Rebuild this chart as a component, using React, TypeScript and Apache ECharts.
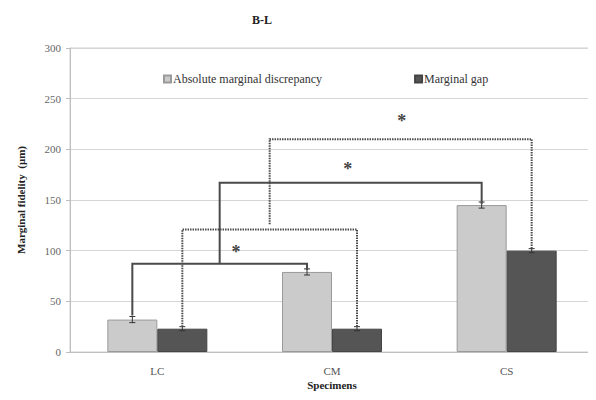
import React, { useEffect, useRef } from "react";
import * as echarts from "echarts";

const categories = ["LC", "CM", "CS"];
const seriesNames = ["Absolute marginal discrepancy", "Marginal gap"];
const absoluteDiscrepancy = [32, 79, 145];
const marginalGap = [23, 23, 100];
const absoluteErr = [3, 3, 3];
const gapErr = [2, 2, 2];

// significance brackets: from bar (cat, series) or the middle of another bracket
const bracketFrom = [
  { cat: 0, series: 0 },
  { cat: 0, series: 1 },
  { mid: 0 },
  { mid: 1 },
];
const bracketTo = [
  { cat: 1, series: 0 },
  { cat: 1, series: 1 },
  { cat: 2, series: 0 },
  { cat: 2, series: 1 },
];
const bracketFromEnd = [36, 25, 87, 126];
const bracketToEnd = [81, 25, 146, 101];
const bracketLevel = [87, 121, 167, 210];
const bracketDashed = [false, true, false, true];

// asterisks: position along category index, value
const starPos = [0.45, 1.09, 1.4];
const starValue = [99, 181, 228];

const BAR_W = 50;
const SERIF = "'Liberation Serif', 'Times New Roman', serif";

export default function App() {
  const ref = useRef<HTMLDivElement>(null);
  useEffect(() => {
    if (!ref.current) return;
    const chart = echarts.init(ref.current, undefined, { renderer: "svg" });

    const barX = (api: any, cat: number, series: number) => {
      const c = api.coord([cat, 0]);
      return c[0] + (series === 0 ? -BAR_W / 2 : BAR_W / 2);
    };
    const bracketXs = (api: any, i: number): [number, number] => {
      const f: any = bracketFrom[i];
      const t: any = bracketTo[i];
      let x1: number;
      if (f.mid !== undefined) {
        const [a, b] = bracketXs(api, f.mid);
        x1 = (a + b) / 2;
      } else x1 = barX(api, f.cat, f.series);
      const x2 = barX(api, t.cat, t.series);
      return [x1, x2];
    };

    chart.setOption({
      animation: false,
      textStyle: { fontFamily: SERIF },
      title: {
        text: "B-L",
        left: 257,
        top: 9,
        textAlign: "center",
        textStyle: { fontFamily: SERIF, fontSize: 12, fontWeight: "bold", color: "#222" },
      },
      legend: {
        data: seriesNames,
        left: 158,
        top: 68,
        itemGap: 92,
        itemWidth: 7,
        itemHeight: 7,
        icon: "rect",
        textStyle: { fontFamily: SERIF, fontSize: 12, color: "#333", padding: [0, 0, 0, -3] },
      },
      grid: {
        left: 70,
        right: 2,
        top: 48,
        bottom: 48,
        show: true,
        borderColor: "#cfcfcf",
        borderWidth: 1,
      },
      xAxis: {
        type: "category",
        data: categories,
        name: "Specimens",
        nameLocation: "middle",
        nameGap: 27,
        nameMoveOverlap: false,
        nameTextStyle: { fontFamily: SERIF, fontSize: 11, fontWeight: "bold", color: "#222" },
        axisLine: { lineStyle: { color: "#bfbfbf" } },
        axisTick: { show: false },
        axisLabel: { fontFamily: SERIF, fontSize: 11, color: "#555", margin: 13 },
      },
      yAxis: {
        type: "value",
        min: 0,
        max: 300,
        interval: 50,
        name: "Marginal fidelity  (μm)",
        nameLocation: "middle",
        nameGap: 44,
        nameMoveOverlap: false,
        nameTextStyle: { fontFamily: SERIF, fontSize: 11, fontWeight: "bold", color: "#222" },
        axisLine: { show: true, lineStyle: { color: "#bfbfbf" } },
        axisTick: { show: true, inside: false, length: 4, lineStyle: { color: "#bfbfbf" } },
        axisLabel: { fontFamily: SERIF, fontSize: 11, color: "#666", margin: 9 },
        splitLine: { lineStyle: { color: "#d6d6d6" } },
      },
      series: [
        {
          name: seriesNames[0],
          type: "bar",
          data: absoluteDiscrepancy,
          barWidth: BAR_W,
          barGap: "0%",
          itemStyle: { color: "#cbcbcb", borderColor: "#9a9a9a", borderWidth: 1 },
        },
        {
          name: seriesNames[1],
          type: "bar",
          data: marginalGap,
          barWidth: BAR_W,
          barGap: "0%",
          itemStyle: { color: "#555555", borderColor: "#444", borderWidth: 1 },
        },
        {
          type: "custom",
          name: "errors",
          silent: true,
          z: 5,
          data: categories.map((_, i) => [i, absoluteDiscrepancy[i]]),
          renderItem: (params: any, api: any) => {
            const i = params.dataIndex;
            const children: any[] = [];
            const vals = [absoluteDiscrepancy[i], marginalGap[i]];
            const errs = [absoluteErr[i], gapErr[i]];
            for (let s = 0; s < 2; s++) {
              const x = barX(api, i, s);
              const yTop = api.coord([i, vals[s] + errs[s]])[1];
              const yBot = api.coord([i, vals[s] - errs[s]])[1];
              const st = { stroke: "#333", lineWidth: 1 };
              children.push({ type: "line", shape: { x1: x, y1: yTop, x2: x, y2: yBot }, style: st });
              children.push({ type: "line", shape: { x1: x - 3, y1: yTop, x2: x + 3, y2: yTop }, style: st });
              children.push({ type: "line", shape: { x1: x - 3, y1: yBot, x2: x + 3, y2: yBot }, style: st });
            }
            return { type: "group", children };
          },
        },
        {
          type: "custom",
          name: "brackets",
          silent: true,
          z: 6,
          data: bracketLevel.map((v) => [0, v]),
          renderItem: (params: any, api: any) => {
            const i = params.dataIndex;
            const [x1, x2] = bracketXs(api, i);
            const yL = api.coord([0, bracketLevel[i]])[1];
            const yA = api.coord([0, bracketFromEnd[i]])[1];
            const yB = api.coord([0, bracketToEnd[i]])[1];
            return {
              type: "polyline",
              shape: { points: [[x1, yA], [x1, yL], [x2, yL], [x2, yB]] },
              style: {
                stroke: "#4a4a4a",
                lineWidth: 2,
                fill: null,
                lineDash: bracketDashed[i] ? [1.5, 1] : null,
              },
            };
          },
        },
        {
          type: "custom",
          name: "stars",
          silent: true,
          z: 7,
          data: starValue.map((v) => [0, v]),
          renderItem: (params: any, api: any) => {
            const i = params.dataIndex;
            const p = starPos[i];
            const c0 = Math.floor(p);
            const a = api.coord([c0, starValue[i]]);
            const b = api.coord([c0 + 1 <= 2 ? c0 + 1 : c0, starValue[i]]);
            const x = a[0] + (b[0] - a[0]) * (p - c0);
            return {
              type: "text",
              style: {
                text: "*",
                x,
                y: a[1],
                textAlign: "center",
                textVerticalAlign: "middle",
                font: "bold 18px " + SERIF,
                fill: "#444",
              },
            };
          },
        },
      ],
    });
    return () => chart.dispose();
  }, []);
  return <div ref={ref} style={{ width: 596, height: 400, margin: -8 }} />;
}
